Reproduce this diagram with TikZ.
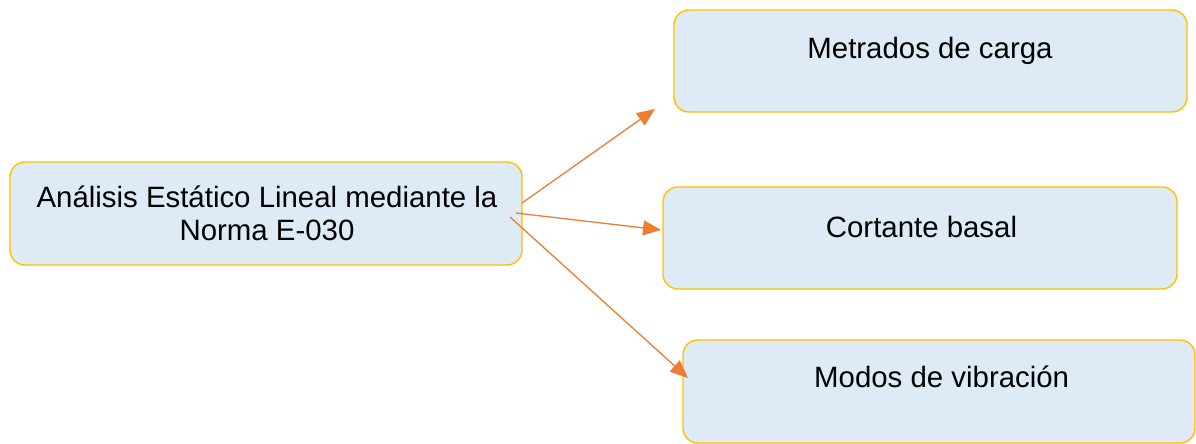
\documentclass[tikz,border=0pt]{standalone}
\usepackage{fontspec}
\setmainfont{Liberation Sans}
\usetikzlibrary{arrows.meta}
\definecolor{boxfill}{HTML}{DEEAF6}
\definecolor{boxline}{HTML}{FFC000}
\definecolor{arrowc}{HTML}{ED7D31}
\begin{document}
\begin{tikzpicture}[x=1pt,y=-1pt,
  box/.style={draw=boxline,fill=boxfill,line width=1.4pt,rounded corners=15pt},
  lbl/.style={inner sep=0pt,anchor=base,font=\fontsize{29.4}{33}\selectfont},
  conn/.style={draw=arrowc,line width=1.3pt,-{Triangle[length=18pt,width=15pt]}}]
\useasboundingbox (0,0) rectangle (1196,444);
\path[box] (10,162) rectangle (522,265);
\path[box] (674,10) rectangle (1187,112);
\path[box] (663,187) rectangle (1177,289);
\path[box] (683,340) rectangle (1195,443);
\node[lbl] (l1) at (267,207) {Análisis Estático Lineal mediante la};
\node[lbl] (l2) at (267,240) {Norma E-030};
\node[lbl] (t1) at (930,59) {Metrados de carga};
\node[lbl] (t2) at (921.5,237) {Cortante basal};
\node[lbl,anchor=base west] (t3) at (814,387) {Modos de vibración};
\coordinate (s1) at (522,203);
\coordinate (e1) at (655,109);
\coordinate (s2) at (516,213);
\coordinate (e2) at (661,230);
\coordinate (s3) at (510,217);
\coordinate (e3) at (688,378);
\draw[conn] (s1) -- (e1);
\draw[conn] (s2) -- (e2);
\draw[conn] (s3) -- (e3);
\end{tikzpicture}
\end{document}
